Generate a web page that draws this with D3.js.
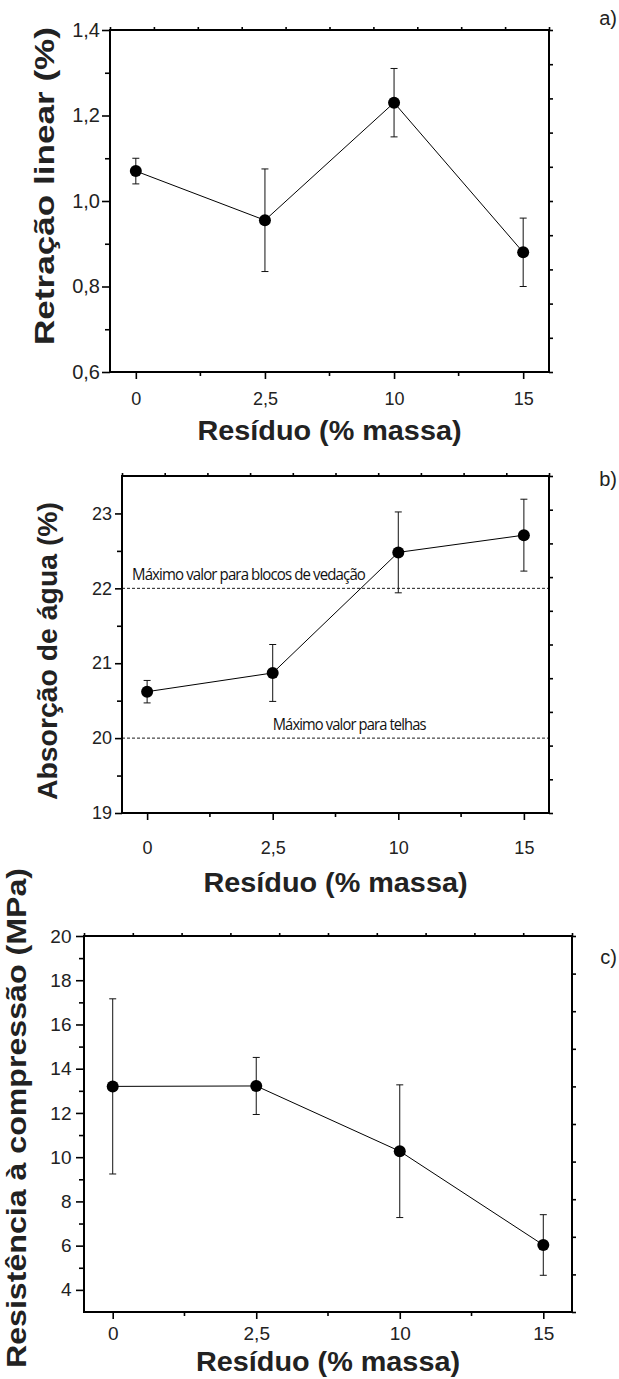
<!DOCTYPE html>
<html>
<head>
<meta charset="utf-8">
<script src="https://cdn.jsdelivr.net/npm/d3@7"></script>
<style>
body{margin:0;background:#fff}
svg{display:block}
</style>
</head>
<body>
<script>
var categorias=["0","2,5","10","15"]

var retracao=[1.07,0.955,1.23,0.88]
var retracaoErro=[0.03,0.12,0.08,0.08]
var ticksRetracao=[0.6,0.8,1.0,1.2,1.4]
var menoresRetracao=[0.7,0.9,1.1,1.3]

var absorcao=[20.62,20.87,22.48,22.71]
var absorcaoErro=[0.15,0.38,0.54,0.48]
var ticksAbsorcao=[19,20,21,22,23]
var menoresAbsorcao=[19.5,20.5,21.5,22.5]
var limitesAbsorcao=[22,20]
var limitesTexto=["Máximo valor para blocos de vedação","Máximo valor para telhas"]

var resistencia=[13.20,13.22,10.27,6.03]
var resistenciaErro=[3.96,1.29,3.0,1.37]
var ticksResistencia=[4,6,8,10,12,14,16,18,20]
var menoresResistencia=[5,7,9,11,13,15,17,19]

var fonte='"Liberation Sans", Arial, sans-serif'
var virgula=function(f){return function(d){return d3.format(f)(d).replace(".",",")}}

var svg=d3.select("body").append("svg")
          .attr("width",619)
          .attr("height",1379)

var painel=function(p)
{
  var w=p.right-p.left
  var h=p.bottom-p.top
  var xScale=d3.scalePoint()
     .domain(categorias)
     .range([0,w])
     .padding(0.2)
  var yScale=d3.scaleLinear()
     .domain(p.yDomain)
     .range([h,0])
  var g=svg.append("g")
           .attr("transform","translate("+p.left+","+p.top+")")

  var estilo=function(sel,size){
    sel.select(".domain").remove()
    sel.selectAll("line").attr("stroke","#000").attr("stroke-width",1.6)
    sel.attr("font-family",fonte).attr("font-size",size)
    sel.selectAll("text").attr("fill","#222")
  }

  // eixo esquerdo
  g.append("g")
   .call(d3.axisLeft(yScale).tickValues(p.yTicks).tickFormat(p.fmt)
          .tickSize(p.tickLen).tickPadding(p.pad).tickSizeOuter(0))
   .call(estilo,p.yFont)
  g.append("g")
   .call(d3.axisLeft(yScale).tickValues(p.yMinor).tickFormat("").tickSize(5).tickSizeOuter(0))
   .call(estilo,p.yFont)

  // eixo inferior
  g.append("g")
   .attr("transform","translate(0,"+h+")")
   .call(d3.axisBottom(xScale).tickSize(7).tickPadding(p.xPad).tickSizeOuter(0))
   .call(estilo,p.xFont)
  var meios=d3.range(categorias.length-1).map(function(i){
    return (xScale(categorias[i])+xScale(categorias[i+1]))/2})
  g.selectAll(".xminor")
   .data(meios)
   .enter()
   .append("line")
   .attr("x1",function(d){return d}).attr("x2",function(d){return d})
   .attr("y1",h).attr("y2",h+4)
   .attr("stroke","#000").attr("stroke-width",1.6)

  // eixos superior e direito (10 divisoes)
  var fr=d3.range(11).map(function(i){return i/10})
  var topo=d3.scaleLinear().domain([0,1]).range([0,w])
  g.append("g")
   .call(d3.axisTop(topo).tickValues(fr).tickFormat("").tickSize(3).tickSizeOuter(0))
   .call(estilo,10)
  var dir=d3.scaleLinear().domain([0,1]).range([h,0])
  g.append("g")
   .attr("transform","translate("+w+",0)")
   .call(d3.axisRight(dir).tickValues(fr).tickFormat("").tickSize(4).tickSizeOuter(0))
   .call(estilo,10)

  // linhas de referencia
  if(p.limites){
    g.selectAll(".limite")
     .data(p.limites)
     .enter()
     .append("line")
     .attr("x1",0).attr("x2",w)
     .attr("y1",function(d){return yScale(d)})
     .attr("y2",function(d){return yScale(d)})
     .attr("stroke","#000").attr("stroke-width",0.9)
     .attr("stroke-dasharray","3,2")
    g.selectAll(".limtxt")
     .data(p.limites)
     .enter()
     .append("text")
     .attr("x",function(d,i){return i==0?10:xScale(categorias[1])})
     .attr("y",function(d){return yScale(d)-8.5})
     .attr("font-family",'"Open Sans", sans-serif')
     .attr("font-size",17)
     .attr("letter-spacing",-1)
     .attr("fill","#111")
     .attr("textLength",function(d,i){return p.limitesLen[i]})
     .attr("lengthAdjust","spacingAndGlyphs")
     .text(function(d,i){return limitesTexto[i]})
  }

  // serie
  var linha=d3.line()
     .x(function(d,i){return xScale(categorias[i])})
     .y(function(d){return yScale(d)})
  g.append("path")
   .datum(p.valores)
   .attr("d",linha)
   .attr("fill","none")
   .attr("stroke","#000")
   .attr("stroke-width",1)

  var barras=g.selectAll(".erro")
     .data(p.valores)
     .enter()
     .append("g")
     .attr("transform",function(d,i){return "translate("+xScale(categorias[i])+",0)"})
  barras.append("line")
     .attr("y1",function(d,i){return yScale(d-p.erros[i])})
     .attr("y2",function(d,i){return yScale(d+p.erros[i])})
     .attr("stroke","#111").attr("stroke-width",1)
  barras.append("line")
     .attr("x1",-3.5).attr("x2",3.5)
     .attr("y1",function(d,i){return yScale(d+p.erros[i])})
     .attr("y2",function(d,i){return yScale(d+p.erros[i])})
     .attr("stroke","#111").attr("stroke-width",1)
  barras.append("line")
     .attr("x1",-3.5).attr("x2",3.5)
     .attr("y1",function(d,i){return yScale(d-p.erros[i])})
     .attr("y2",function(d,i){return yScale(d-p.erros[i])})
     .attr("stroke","#111").attr("stroke-width",1)
  barras.append("circle")
     .attr("cy",function(d){return yScale(d)})
     .attr("r",6)
     .attr("fill","#000")

  // moldura
  g.append("rect")
   .attr("width",w).attr("height",h)
   .attr("fill","none")
   .attr("stroke","#000")
   .attr("stroke-width",2)

  // titulos
  svg.append("text")
     .attr("x",p.left+w/2)
     .attr("y",p.xTitleY)
     .attr("text-anchor","middle")
     .attr("font-family",fonte)
     .attr("font-weight","bold")
     .attr("font-size",28)
     .attr("fill","#222")
     .attr("textLength",264)
     .attr("lengthAdjust","spacingAndGlyphs")
     .text("Resíduo (% massa)")
  svg.append("text")
     .attr("transform","translate("+p.yTitleX+","+p.yTitleY+") rotate(-90)")
     .attr("text-anchor","middle")
     .attr("font-family",fonte)
     .attr("font-weight","bold")
     .attr("font-size",27)
     .attr("fill","#222")
     .attr("textLength",p.yTitleLen)
     .attr("lengthAdjust","spacingAndGlyphs")
     .text(p.yTitle)
  svg.append("text")
     .attr("x",617)
     .attr("y",p.tagY)
     .attr("text-anchor","end")
     .attr("font-family",fonte)
     .attr("font-size",20)
     .attr("fill","#222")
     .text(p.tag)
}

painel({left:110,right:549,top:30,bottom:372,
        yDomain:[0.6,1.4],yTicks:ticksRetracao,yMinor:menoresRetracao,fmt:virgula(".1f"),
        tickLen:8,pad:2,yFont:20,xFont:18,xPad:13.5,
        valores:retracao,erros:retracaoErro,
        xTitleY:439.5,yTitle:"Retração linear (%)",yTitleX:54,yTitleY:186,yTitleLen:318,
        tag:"a)",tagY:25})

painel({left:122,right:549,top:476,bottom:813,
        yDomain:[19,23.5],yTicks:ticksAbsorcao,yMinor:menoresAbsorcao,fmt:d3.format("d"),
        tickLen:7,pad:3,yFont:18,xFont:18,xPad:21.5,
        valores:absorcao,erros:absorcaoErro,
        limites:limitesAbsorcao,limitesLen:[233,153],
        xTitleY:891.5,yTitle:"Absorção de água (%)",yTitleX:57,yTitleY:651,yTitleLen:298,
        tag:"b)",tagY:486})

painel({left:84,right:572,top:936,bottom:1312,
        yDomain:[3,20],yTicks:ticksResistencia,yMinor:menoresResistencia,fmt:d3.format("d"),
        tickLen:8,pad:4.5,yFont:19,xFont:19,xPad:8,
        valores:resistencia,erros:resistenciaErro,
        xTitleY:1371,yTitle:"Resistência à compressão (MPa)",yTitleX:26,yTitleY:1118,yTitleLen:500,
        tag:"c)",tagY:964})
</script>
</body>
</html>
